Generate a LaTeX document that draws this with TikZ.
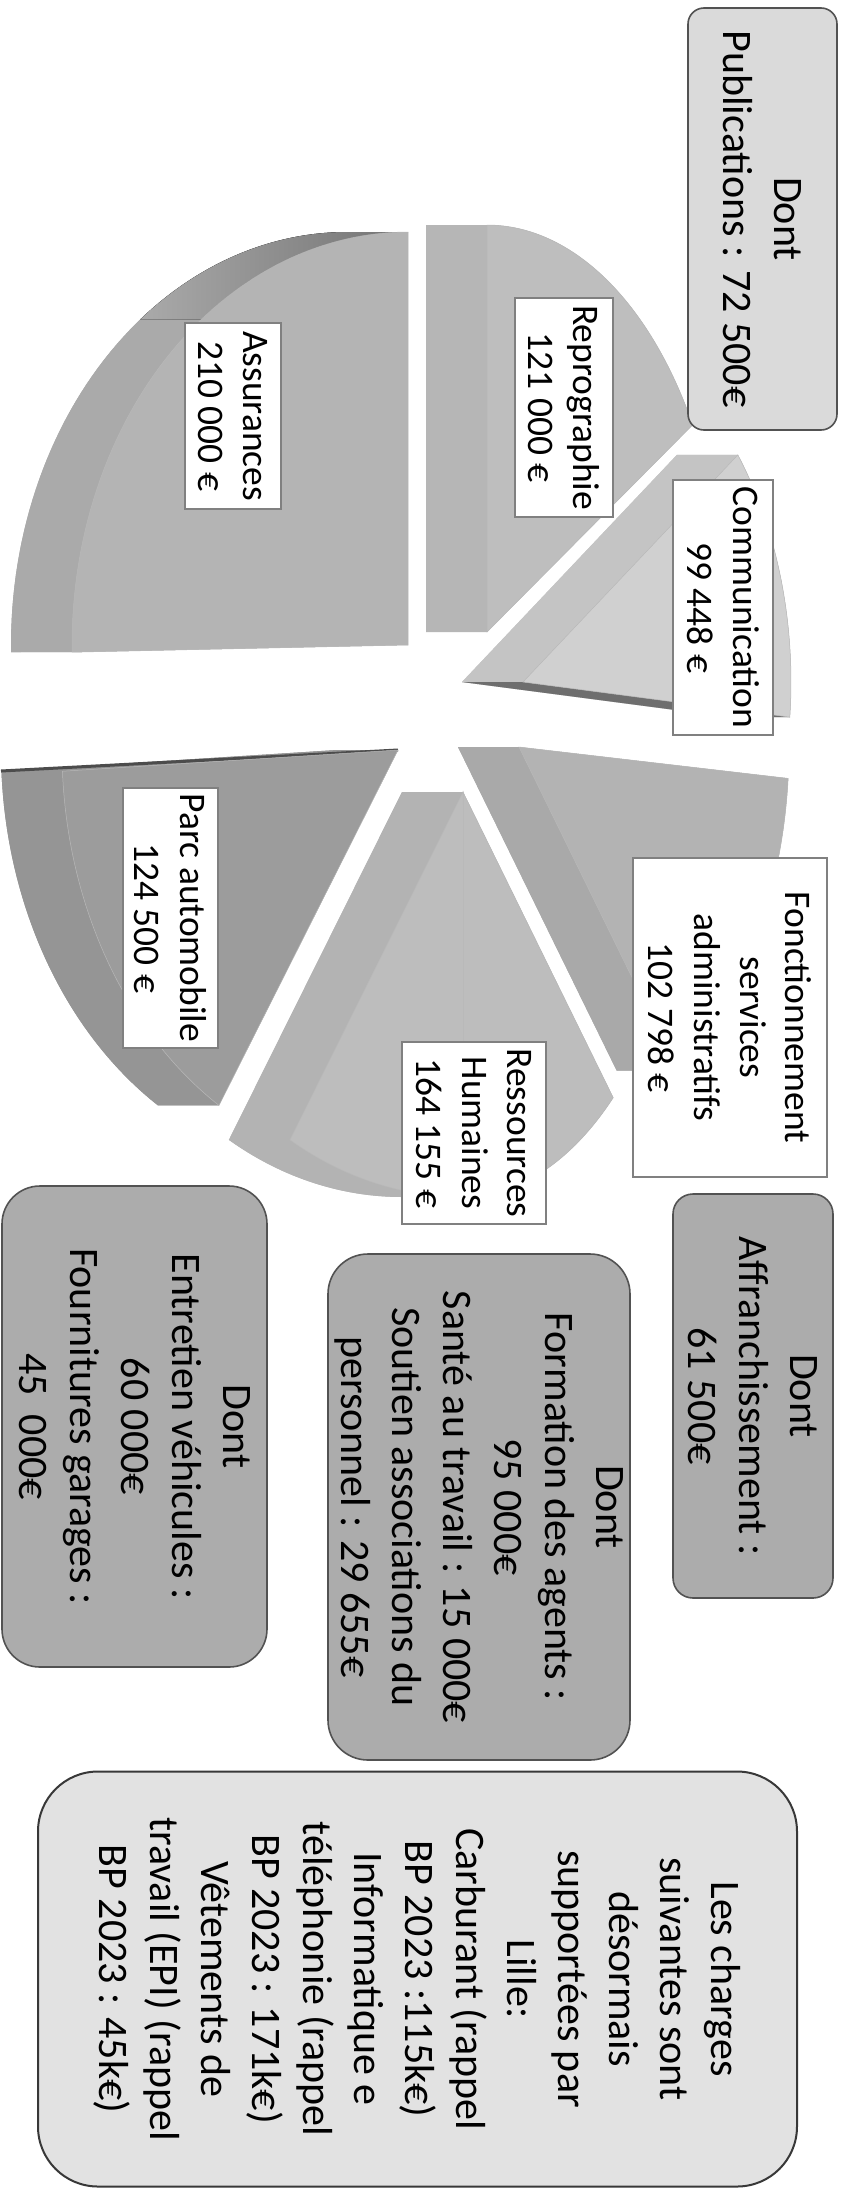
\documentclass[tikz,border=0pt]{standalone}
\usepackage{fontspec}
\setmainfont{Carlito}

% slice greys
\definecolor{asstop}{HTML}{B4B4B4}
\definecolor{assside}{HTML}{AAAAAA}
\definecolor{reptop}{HTML}{BEBEBE}
\definecolor{repside}{HTML}{B6B6B6}
\definecolor{comtop}{HTML}{D0D0D0}
\definecolor{comside}{HTML}{C4C4C4}
\definecolor{fontop}{HTML}{B3B3B3}
\definecolor{fonside}{HTML}{A9A9A9}
\definecolor{rhtop}{HTML}{BDBDBD}
\definecolor{rhside}{HTML}{B3B3B3}
\definecolor{parctop}{HTML}{9C9C9C}
\definecolor{parcside}{HTML}{959595}
\definecolor{darkwall}{HTML}{6E6E6E}
% box greys
\definecolor{lightbox}{HTML}{DADADA}
\definecolor{midbox}{HTML}{ACACAC}
\definecolor{lillebox}{HTML}{E2E2E2}

\tikzset{
  tag/.style={draw=black!50, line width=1.2pt, fill=white, rotate=-90, align=center,
    inner sep=0pt, font=\fontsize{37.5}{45.7}\selectfont},
  note/.style={draw=black!68, line width=1.6pt, rotate=-90, align=center,
    inner sep=0pt, font=\fontsize{42}{51}\selectfont},
}

\begin{document}
\begin{tikzpicture}[x=1pt, y=-1pt]
    \def\slicedepth{61}

    % side of a slice: bottom face, outer wall and the two cut walls
    \def\sliceside#1#2#3#4#5#6#7{%
      \fill[#7] (#1-\slicedepth,#2) -- plot[domain=#5:#6, samples=60] ({#1-\slicedepth+#3*cos(\x)},{#2-#4*sin(\x)}) -- cycle;
      \fill[#7] plot[domain=#5:#6, samples=60] ({#1+#3*cos(\x)},{#2-#4*sin(\x)})
        -- plot[domain=#5:#6, samples=60] ({#1-\slicedepth+#3*cos(#5+#6-\x)},{#2-#4*sin(#5+#6-\x)}) -- cycle;
      \fill[#7] (#1,#2) -- ({#1+#3*cos(#5)},{#2-#4*sin(#5)}) -- ({#1-\slicedepth+#3*cos(#5)},{#2-#4*sin(#5)}) -- (#1-\slicedepth,#2) -- cycle;
      \fill[#7] (#1,#2) -- ({#1+#3*cos(#6)},{#2-#4*sin(#6)}) -- ({#1-\slicedepth+#3*cos(#6)},{#2-#4*sin(#6)}) -- (#1-\slicedepth,#2) -- cycle;
    }
    % top face of a slice
    \def\slicetop#1#2#3#4#5#6#7{%
      \filldraw[fill=#7, draw=black!28, line width=0.5pt] (#1,#2) -- plot[domain=#5:#6, samples=60] ({#1+#3*cos(\x)},{#2-#4*sin(\x)}) -- cycle;
    }

    % page
    \fill[white] (0,0) rectangle (845,2190);
    \useasboundingbox (0,0) rectangle (845,2190);

    % Sides of the slices
    \sliceside{408}{645}{336}{413}{90}{181}{assside}
    \sliceside{487}{632}{239}{407}{30.6}{90}{repside}
    \sliceside{523}{682}{268}{380}{-5.3}{36.7}{comside}
    \sliceside{519}{747}{270}{400}{-54}{-4.5}{fonside}
    \sliceside{463}{792}{229}{405}{-90}{-49}{rhside}
    \sliceside{463}{792}{338}{405}{-120.8}{-90}{rhside}
    \sliceside{398}{750}{336}{420}{-177.1}{-122.2}{parcside}

    % Darker walls seen almost edge on
    \fill[left color=assside, right color=black!55] plot[domain=90:128, samples=40] ({408+336*cos(\x)},{645-413*sin(\x)})
      -- plot[domain=90:128, samples=40] ({408-\slicedepth+336*cos(218-\x)},{645-413*sin(218-\x)}) -- cycle; % Assurances
    \fill[darkwall] (523,682) -- (790,717) -- (729,717) -- (462,682) -- cycle; % Communication
    \draw[black!70, line width=3pt] (1,771) -- (398,750); % Parc automobile

    % Top faces of the slices
    \slicetop{408}{645}{336}{413}{90}{181}{asstop}
    \slicetop{487}{632}{239}{407}{30.6}{90}{reptop}
    \slicetop{523}{682}{268}{380}{-5.3}{36.7}{comtop}
    \slicetop{519}{747}{270}{400}{-54}{-4.5}{fontop}
    \slicetop{463}{792}{229}{405}{-90}{-49}{rhtop}
    \slicetop{463}{792}{338}{405}{-120.8}{-90}{rhtop}
    \fill[rhtop] (463,795) -- (463,1190) -- (455,1190) -- (455,900) -- cycle; % hide the seam
    \slicetop{398}{750}{336}{420}{-177.1}{-122.2}{parctop}

    % Slice labels
    \node[tag, minimum width=186pt, minimum height=96pt] (lass) at (233,416) {Assurances\\210 000 €};
    \node[tag, minimum width=219pt, minimum height=98pt] (lrep) at (564,407.5) {Reprographie\\121 000 €};
    \node[tag, minimum width=255pt, minimum height=100pt] (lcom) at (723,607.5) {Communication\\99 448 €};
    \node[tag, minimum width=319pt, minimum height=194pt] (lfon) at (730,1017.5) {Fonctionnement\\services\\administratifs\\102 798 €};
    \node[tag, minimum width=182pt, minimum height=144pt] (lrh) at (474,1133) {Ressources\\Humaines\\164 155 €};
    \node[tag, minimum width=260pt, minimum height=95pt] (lparc) at (170.5,918) {Parc automobile\\124 500 €};

    % Detail boxes
    \node[note, fill=lightbox, rounded corners=16pt, minimum width=422pt, minimum height=149pt] (pub) at (762.5,219) {Dont\\Publications : 72 500€};
    \node[note, fill=midbox, rounded corners=20pt, minimum width=404pt, minimum height=160pt] (affr) at (753,1396) {Dont\\Affranchissement :\\61 500€};
    \node[note, fill=midbox, rounded corners=40pt, minimum width=506pt, minimum height=302pt] (form) at (479,1507) {Dont\\Formation des agents :\\95 000€\\Santé au travail : 15 000€\\Soutien associations du\\personnel : 29 655€};
    \node[note, fill=midbox, rounded corners=38pt, minimum width=481pt, minimum height=265pt] (entr) at (134.5,1426.5) {Dont\\Entretien véhicules :\\60 000€\\Fournitures garages :\\45~~000€};
    \node[note, fill=lillebox, draw=black!78, line width=2pt, rounded corners=60pt, minimum width=415pt, minimum height=759pt] (lille) at (417.5,1979) {Les charges\\suivantes sont\\désormais\\supportées par\\Lille:\\Carburant (rappel\\BP 2023 :115k€)\\Informatique e\\téléphonie (rappel\\BP 2023 : 171k€)\\Vêtements de\\travail (EPI) (rappel\\BP 2023 : 45k€)};

\end{tikzpicture}
\end{document}
